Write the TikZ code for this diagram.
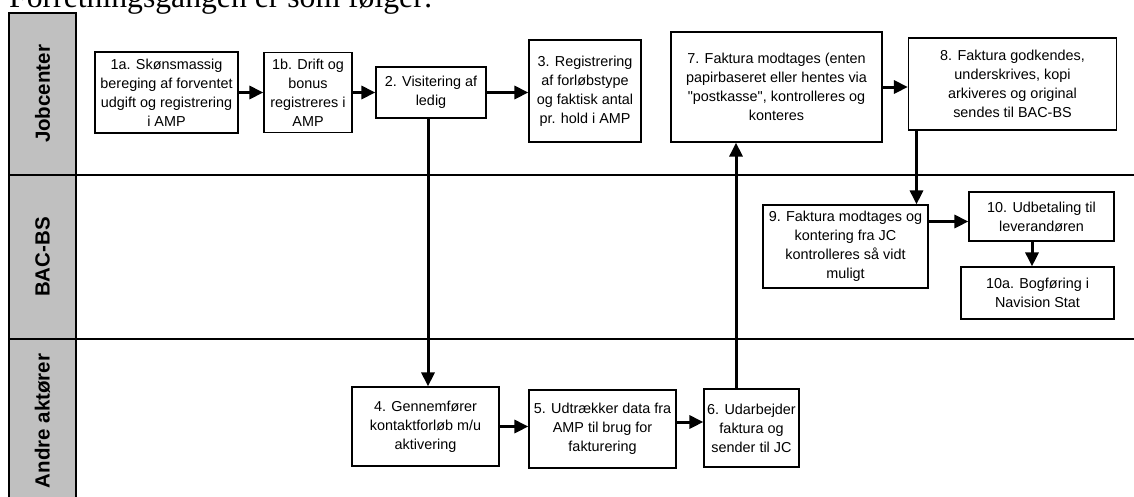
\documentclass[tikz,border=0pt]{standalone}
\usepackage{fontspec}
\setmainfont{Liberation Sans}
\setsansfont{Liberation Sans}[Ligatures=TeXOff]
\newfontfamily\titlefont{Liberation Serif}
\usetikzlibrary{arrows.meta}
\definecolor{lanegray}{RGB}{192,192,192}
\tikzstyle{line} = [draw, line width=3pt, -{Triangle[length=14pt, width=13pt]}]
\tikzstyle{proc} = [rectangle, draw, line width=1.2pt, align=center, inner sep=2pt, font=\sffamily\fontsize{14.4}{19}\selectfont]
\tikzstyle{lane_head} = [rectangle, draw, line width=2pt, fill=lanegray, rotate=90, minimum height=67pt, font=\sffamily\bfseries\fontsize{20.5}{24}\selectfont]
\tikzstyle{lane_line} = [draw, line width=2pt]

\begin{document}
\begin{tikzpicture}[x=1pt, y=-1pt]
\useasboundingbox (0,0) rectangle (1134,496);
\clip (0,0) rectangle (1134,496);

\node [anchor=base west, inner sep=0pt, font=\titlefont\fontsize{31.7}{36}\selectfont] (title) at (9,7) {Forretningsgangen er som følger:};

% swimlanes
\node [lane_head, minimum width=162pt] (jc) at (42.5,94) {Jobcenter};
\node [lane_head, minimum width=164pt] (bac) at (42.5,257) {BAC-BS};
\node [lane_head, minimum width=164pt] (andre) at (42.5,421) {Andre aktører};
\path [lane_line] (76,175) -- (1140,175);
\path [lane_line] (76,339) -- (1140,339);

% Jobcenter
\node [proc, minimum width=143pt, minimum height=81pt] (s1a) at (166.5,92.5) {1a. Skønsmassig\\bereging af forventet\\udgift og registrering\\i AMP};
\node [proc, right of=s1a, node distance=141.5pt, minimum width=88pt, minimum height=80pt] (s1b) {1b. Drift og\\bonus\\registreres i\\AMP};
\path [line] (s1a.east) to (s1b.west);
\node [proc, right of=s1b, node distance=123pt, minimum width=110pt, minimum height=51pt] (s2) {2. Visitering af\\ledig};
\path [line] (s1b.east) to (s1b.east -| s2.west);
\node [proc, right of=s2, node distance=154pt, minimum width=112pt, minimum height=102pt, yshift=1.5pt] (s3) {3. Registrering\\af forløbstype\\og faktisk antal\\pr. hold i AMP};
\path [line] (s2.east) to (s2.east -| s3.west);
\node [proc, right of=s3, node distance=191.5pt, minimum width=211pt, minimum height=110pt, yshift=4pt] (s7) {7. Faktura modtages (enten\\papirbaseret eller hentes via\\"postkasse", kontrolleres og\\konteres};
\node [proc, right of=s7, node distance=236pt, minimum width=208pt, minimum height=92pt, yshift=3pt] (s8) {8. Faktura godkendes,\\underskrives, kopi\\arkiveres og original\\sendes til BAC-BS};
\path [line] (s7.east) to (s7.east -| s8.west);

% BAC-BS
\node [proc, minimum width=165pt, minimum height=83pt] (s9) at (845.5,246.5) {9. Faktura modtages og\\kontering fra JC\\kontrolleres så vidt\\muligt};
\path [line] ([xshift=-96pt]s8.south) to ([xshift=-96pt]s8.south |- s9.north);
\node [proc, minimum width=145pt, minimum height=49pt] (s10) at (1041.5,216.5) {10. Udbetaling til\\leverandøren};
\path [line] ([yshift=-5pt]s10.west -| s9.east) to ([yshift=-5pt]s10.west);
\node [proc, below of=s10, node distance=76.5pt, xshift=-4pt, minimum width=153pt, minimum height=52pt] (s10a) {10a. Bogføring i\\Navision Stat};
\path [line] ([xshift=-9.5pt]s10.south) to ([xshift=-9.5pt]s10.south |- s10a.north);

% Andre aktører
\node [proc, minimum width=147pt, minimum height=79pt] (s4) at (425.5,426.5) {4. Gennemfører\\kontaktforløb m/u\\aktivering};
\path [line] ([xshift=-3pt]s2.south) to ([xshift=-3pt]s2.south |- s4.north);
\node [proc, right of=s4, node distance=177pt, minimum width=147pt, minimum height=78pt, yshift=-2.5pt] (s5) {5. Udtrækker data fra\\AMP til brug for\\fakturering};
\path [line] (s4.east) to (s4.east -| s5.west);
\node [proc, right of=s5, node distance=149pt, minimum width=95pt, minimum height=78pt, yshift=1pt] (s6) {6. Udarbejder\\faktura og\\sender til JC};
\path [line] ([yshift=7pt]s5.east) to ([yshift=7pt]s5.east -| s6.west);
\path [line] ([xshift=-15.5pt]s6.north) to ([xshift=-15.5pt]s6.north |- s7.south);

\end{tikzpicture}
\end{document}
